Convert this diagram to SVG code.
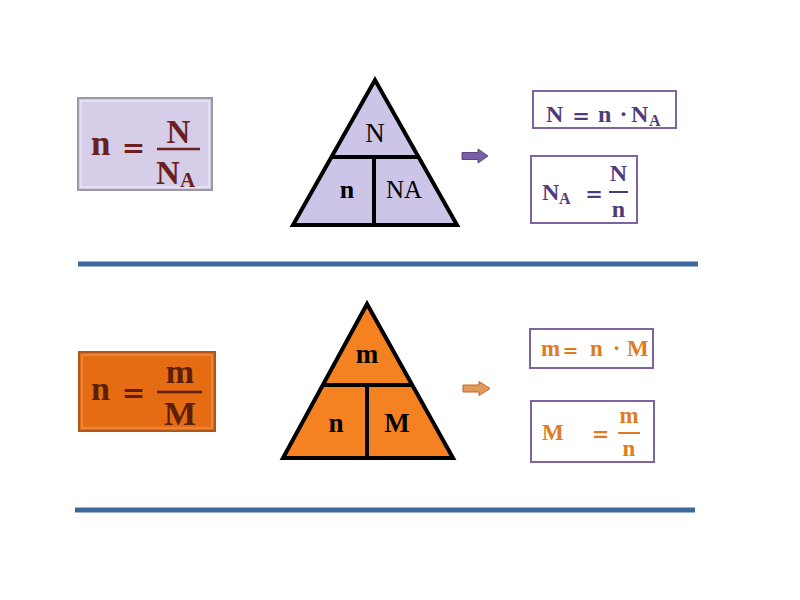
<svg xmlns="http://www.w3.org/2000/svg" width="800" height="600" viewBox="0 0 800 600">
<style>
.f{font-family:"Liberation Serif","Times New Roman",serif;font-weight:bold}
.r{font-family:"Liberation Serif","Times New Roman",serif}
.eq{font-family:"DejaVu Serif","Liberation Serif",serif;font-weight:bold}
.br{fill:#6b1f1f}
.bo{fill:#5c1f0c}
.pu{fill:#4f3b78}
.or{fill:#e07b1f}
.tri{stroke:#000;stroke-width:4;stroke-linejoin:miter}
.div{stroke:#000;stroke-width:4}
.box{fill:#fff;stroke:#8064a2;stroke-width:2}
.sep{stroke:#3e679b;stroke-width:5}
.fl{stroke-width:2.5}
</style>
<rect width="800" height="600" fill="#fff"/>

<g id="formula-NA">
<rect x="78" y="98" width="134" height="92" fill="#d6cde8" stroke="#9c97a6" stroke-width="2"/>
<rect x="81" y="101" width="128" height="86" fill="none" stroke="#e9e4f3" stroke-width="1.5"/>
<text class="f br" x="91" y="155" font-size="35">n</text>
<text class="eq br" x="133.5" y="157" font-size="28" text-anchor="middle">=</text>
<line x1="157" y1="149" x2="200" y2="149" stroke="#6b1f1f" class="fl"/>
<text class="f br" x="178.5" y="143" font-size="33" text-anchor="middle">N</text>
<text class="f br" x="156" y="184" font-size="33">N</text>
<text class="f br" x="180" y="187" font-size="21">A</text>
</g>

<g id="triangle-NA">
<polygon class="tri" points="375,80 293,225 457,225" fill="#cdc5e8"/>
<line class="div" x1="332" y1="157" x2="418" y2="157"/>
<line class="div" x1="374" y1="157" x2="374" y2="225"/>
<text class="r" x="375" y="142" font-size="27" text-anchor="middle" fill="#000">N</text>
<text class="f" x="347" y="198" font-size="26" text-anchor="middle" fill="#000">n</text>
<text class="r" x="404" y="198" font-size="25" text-anchor="middle" fill="#000">NA</text>
</g>

<g id="arrows">
<polygon points="462,152.5 478,152.5 478,149 488,156 478,163 478,159.5 462,159.5" fill="#7a5fa6" stroke="#5d4685" stroke-width="1"/>
<polygon points="463,385 479,385 479,381.5 490,388.5 479,395.5 479,392 463,392" fill="#e39a5a" stroke="#c0662a" stroke-width="1"/>
</g>

<g id="eq-N">
<rect class="box" x="533" y="91" width="143" height="37"/>
<text class="f pu" x="546" y="122" font-size="24">N</text>
<text class="eq pu" x="581" y="123" font-size="21" text-anchor="middle">=</text>
<text class="f pu" x="598" y="122" font-size="24">n</text>
<text class="f pu" x="623.5" y="122" font-size="24" text-anchor="middle">·</text>
<text class="f pu" x="631" y="122" font-size="24">N</text>
<text class="f pu" x="649" y="126" font-size="16">A</text>
</g>

<g id="eq-NA">
<rect class="box" x="531" y="156" width="106" height="67"/>
<text class="f pu" x="542" y="200" font-size="24">N</text>
<text class="f pu" x="559" y="204" font-size="16">A</text>
<text class="eq pu" x="594" y="201" font-size="21" text-anchor="middle">=</text>
<line x1="609" y1="192" x2="628" y2="192" stroke="#4f3b78" stroke-width="2"/>
<text class="f pu" x="618.5" y="181" font-size="24" text-anchor="middle">N</text>
<text class="f pu" x="618.5" y="217" font-size="24" text-anchor="middle">n</text>
</g>

<g id="connectors">
<line class="sep" x1="78" y1="264" x2="698" y2="264"/>
<line class="sep" x1="75" y1="510" x2="695" y2="510"/>
</g>

<g id="formula-M">
<rect x="79" y="352" width="136" height="79" fill="#e56c12" stroke="#b0561a" stroke-width="2"/>
<rect x="82" y="355" width="130" height="73" fill="none" stroke="#f08c42" stroke-width="1.5"/>
<text class="f bo" x="91" y="400" font-size="34">n</text>
<text class="eq bo" x="133.5" y="402" font-size="28" text-anchor="middle">=</text>
<line x1="157" y1="392" x2="202" y2="392" stroke="#5c1f0c" class="fl"/>
<text class="f bo" x="180" y="383" font-size="34" text-anchor="middle">m</text>
<text class="f bo" x="180" y="425" font-size="34" text-anchor="middle">M</text>
</g>

<g id="triangle-M">
<polygon class="tri" points="367,304 283,458 453,458" fill="#f58220"/>
<line class="div" x1="322" y1="385" x2="413" y2="385"/>
<line class="div" x1="367" y1="385" x2="367" y2="458"/>
<text class="f" x="367" y="363" font-size="27" text-anchor="middle" fill="#000">m</text>
<text class="f" x="336" y="432" font-size="27" text-anchor="middle" fill="#000">n</text>
<text class="f" x="397" y="432" font-size="27" text-anchor="middle" fill="#000">M</text>
</g>

<g id="eq-m">
<rect class="box" x="530" y="329" width="123" height="39"/>
<text class="f or" x="541" y="356" font-size="23">m</text>
<text class="eq or" x="570.5" y="357" font-size="19" text-anchor="middle">=</text>
<text class="f or" x="590" y="356" font-size="23">n</text>
<text class="f or" x="616.5" y="356" font-size="23" text-anchor="middle">·</text>
<text class="f or" x="627" y="356" font-size="23">M</text>
</g>

<g id="eq-M">
<rect class="box" x="531" y="401" width="123" height="61"/>
<text class="f or" x="542" y="440" font-size="23">M</text>
<text class="eq or" x="600.5" y="441" font-size="21" text-anchor="middle">=</text>
<line x1="618" y1="433" x2="640" y2="433" stroke="#e07b1f" stroke-width="2"/>
<text class="f or" x="629" y="423" font-size="23" text-anchor="middle">m</text>
<text class="f or" x="629" y="456" font-size="23" text-anchor="middle">n</text>
</g>
</svg>
